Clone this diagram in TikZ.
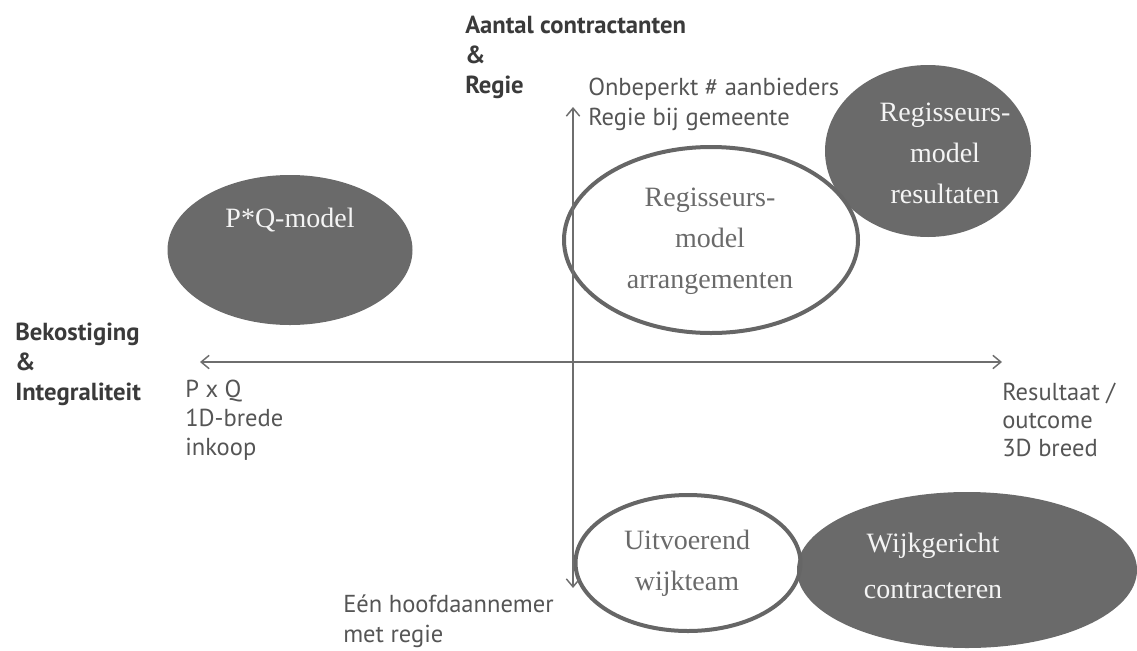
\documentclass[tikz,border=0pt]{standalone}
\usepackage{fontspec}
\setmainfont{Liberation Serif}
\setsansfont{PT Sans}
\usetikzlibrary{shapes.geometric,arrows.meta}
\definecolor{darkfill}{HTML}{6A6A6A}
\definecolor{rimgray}{HTML}{666666}
\definecolor{axisgray}{HTML}{6E6E6E}
\definecolor{titlegray}{HTML}{3A3A3A}
\definecolor{labelgray}{HTML}{555555}
\definecolor{serifgray}{HTML}{6A6A6A}
\definecolor{lighttext}{HTML}{F4F4F4}
\tikzset{
  darkblob/.style={ellipse, fill=darkfill, draw=none, inner sep=0pt},
  whiteblob/.style={ellipse, draw=rimgray, line width=3pt, inner sep=0pt},
  blobtext/.style={font=\rmfamily\fontsize{21}{30.75}\selectfont, align=center, inner sep=0pt},
  darktext/.style={blobtext, text=lighttext},
  lighttextstyle/.style={blobtext, text=serifgray},
  axistitle/.style={font=\sffamily\bfseries\fontsize{18.5}{22.5}\selectfont, text=titlegray, align=left, anchor=north west, inner sep=0pt},
  axislabel/.style={font=\sffamily\fontsize{18.4}{22.2}\selectfont, text=labelgray, align=left, anchor=north west, inner sep=0pt},
  axisline/.style={draw=axisgray, line width=1.1pt, {Straight Barb[length=6pt,width=10pt]}-{Straight Barb[length=6pt,width=10pt]}}
}
\begin{document}
\begin{tikzpicture}[x=0.75pt,y=-0.75pt]
\useasboundingbox (0,0) rectangle (1137,650);
% ellipses
\node[darkblob, minimum width={245*0.75pt}, minimum height={150*0.75pt}] (pq) at (290,250) {};
\node[darkblob, minimum width={206*0.75pt}, minimum height={172*0.75pt}] (res) at (928,151) {};
\node[darkblob, minimum width={340*0.75pt}, minimum height={156*0.75pt}] (wijk) at (967,570) {};
\node[whiteblob, minimum width={294*0.75pt}, minimum height={186*0.75pt}] (arr) at (711,240) {};
\node[whiteblob, minimum width={225*0.75pt}, minimum height={136*0.75pt}] (uit) at (688,563) {};
% ellipse texts
\node[darktext] (pqt) at (290,220) {P*Q-model};
\node[darktext] (rest) at (945,153) {Regisseurs-\\model\\resultaten};
\node[darktext, font=\rmfamily\fontsize{21}{34.5}\selectfont] (wijkt) at (933,566) {Wijkgericht\\contracteren};
\node[lighttextstyle] (arrt) at (710,241) {Regisseurs-\\model\\arrangementen};
\node[lighttextstyle] (uitt) at (687,563) {Uitvoerend\\wijkteam};
% axes
\coordinate (vtop) at (573,107);
\coordinate (vbot) at (573,588);
\coordinate (hleft) at (200,362);
\coordinate (hright) at (1002,362);
\draw[axisline] (vbot) -- (vtop);
\draw[axisline] (hleft) -- (hright);
% labels
\node[axistitle] (ytitle) at (465,16) {Aantal contractanten\\\&\\Regie};
\node[axislabel] (ytoplab) at (588,78) {Onbeperkt \# aanbieders\\Regie bij gemeente};
\node[axislabel, font=\sffamily\fontsize{18.4}{22.5}\selectfont] (ybotlab) at (343,595) {Eén hoofdaannemer\\met regie};
\node[axistitle] (xtitle) at (15,323) {Bekostiging\\\&\\Integraliteit};
\node[axislabel, font=\sffamily\fontsize{18.4}{21.5}\selectfont] (xleftlab) at (185,380) {P x Q\\1D-brede\\inkoop};
\node[axislabel, font=\sffamily\fontsize{18.4}{21}\selectfont] (xrightlab) at (1002,383) {Resultaat /\\outcome\\3D breed};
\end{tikzpicture}
\end{document}
